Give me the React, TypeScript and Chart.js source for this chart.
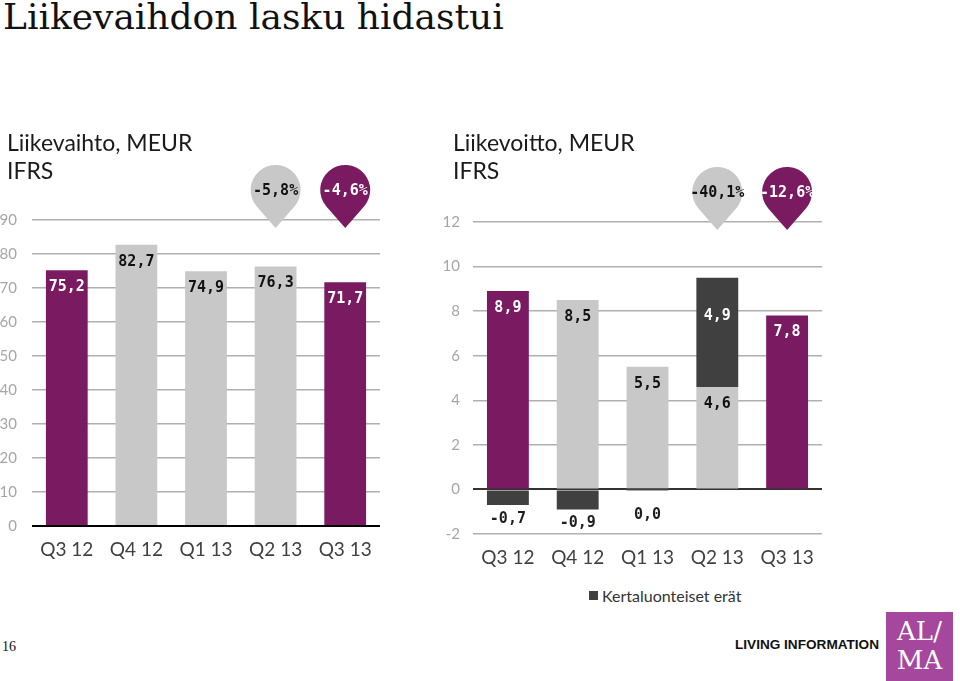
import React, { useEffect, useRef } from 'react';
import { Chart, registerables } from 'chart.js';

Chart.register(...registerables);

// ---- data ----
const quarters = ['Q3 12', 'Q4 12', 'Q1 13', 'Q2 13', 'Q3 13'];
const revenue = [75.2, 82.7, 74.9, 76.3, 71.7];
const operatingProfit = [8.9, 8.5, 5.5, 4.6, 7.8];
const oneOffItems: (number | null)[] = [-0.7, -0.9, 0.0, 4.9, null];
const highlightQuarters = ['Q3 12', 'Q3 13'];
const revenuePinQuarters = ['Q2 13', 'Q3 13'];
const revenuePinLabels = ['-5,8%', '-4,6%'];
const profitPinQuarters = ['Q2 13', 'Q3 13'];
const profitPinLabels = ['-40,1%', '-12,6%'];
const revenueAxis = [0, 90, 10];
const profitAxis = [-2, 12, 2];

const PURPLE = '#7a1b62';
const GRAY = '#c8c8c8';
const DARK = '#404040';
const GRID = '#b0b0b0';

const barColors = quarters.map((q) => (highlightQuarters.includes(q) ? PURPLE : GRAY));

const fmt = (v: number) => v.toFixed(1).replace('.', ',');

const valueLabels = {
  id: 'valueLabels',
  afterDatasetsDraw(chart: any) {
    const ctx = chart.ctx;
    const zeroPx = chart.scales.y.getPixelForValue(0);
    ctx.save();
    ctx.font = 'bold 15px "DejaVu Sans Mono", monospace';
    ctx.textAlign = 'center';
    ctx.textBaseline = 'middle';
    chart.data.datasets.forEach((ds: any, di: number) => {
      const meta = chart.getDatasetMeta(di);
      if (meta.hidden) return;
      meta.data.forEach((el: any, i: number) => {
        const v = ds.data[i];
        if (v == null) return;
        const bg = Array.isArray(ds.backgroundColor) ? ds.backgroundColor[i] : ds.backgroundColor;
        let y: number;
        let color: string;
        if (v > 0) {
          y = ds.isOneOff ? (el.y + el.base) / 2 - 16 : el.y + 17;
          color = bg === GRAY ? '#111' : '#fff';
        } else {
          const end = v === 0 ? zeroPx : el.y;
          y = Math.max(end + 14, zeroPx + 26);
          color = '#1e1e1e';
          if (v === 0) {
            // zero-sized one-off item: thin mark on the zero line
            ctx.fillStyle = bg;
            ctx.fillRect(el.x - el.width / 2, zeroPx - 1, el.width, 2);
          }
        }
        ctx.fillStyle = color;
        ctx.fillText(fmt(v), el.x, y);
      });
    });
    ctx.restore();
  },
};

const pins = {
  id: 'pins',
  afterDraw(chart: any, _args: any, opts: any) {
    const items = opts.items || [];
    const ctx = chart.ctx;
    const top = chart.chartArea.top;
    const xs = chart.scales.x;
    ctx.save();
    items.forEach((it: any) => {
      const idx = chart.data.labels.indexOf(it.quarter);
      if (idx < 0) return;
      const cx = xs.getPixelForValue(idx);
      const r = 25;
      const cy = top - 30;
      const tipY = top + 8;
      const d = tipY - cy;
      const a = Math.acos(r / d);
      ctx.beginPath();
      ctx.moveTo(cx, tipY);
      ctx.arc(cx, cy, r, Math.PI / 2 + a, Math.PI / 2 - a, false);
      ctx.closePath();
      ctx.fillStyle = it.color;
      ctx.fill();
      ctx.font = 'bold 15px "DejaVu Sans Mono", monospace';
      ctx.textAlign = 'center';
      ctx.textBaseline = 'middle';
      ctx.fillStyle = it.textColor;
      ctx.fillText(it.text, cx, cy + 1);
    });
    ctx.restore();
  },
};

const pinItems = (qs: string[], labels: string[]) =>
  qs.map((q, i) => {
    const hl = highlightQuarters.includes(q);
    return { quarter: q, text: labels[i], color: hl ? PURPLE : GRAY, textColor: hl ? '#fff' : '#111' };
  });

function axisOptions(range: number[], yWidth: number, yPad: number, xHeight: number, zeroColor: string) {
  return {
    x: {
      stacked: true,
      grid: { display: false, drawTicks: false },
      border: { display: false },
      ticks: { color: '#404040', padding: 12, font: { family: 'Lato', size: 19 } },
      afterFit: (s: any) => {
        s.height = xHeight;
      },
    },
    y: {
      stacked: true,
      min: range[0],
      max: range[1],
      ticks: {
        stepSize: range[2],
        color: '#a6a6a6',
        padding: yPad,
        font: { family: 'Lato', size: 15 },
      },
      grid: {
        drawTicks: false,
        color: (c: any) => (c.tick && c.tick.value === 0 ? zeroColor : GRID),
        lineWidth: (c: any) => (c.tick && c.tick.value === 0 ? 2 : 1.5),
      },
      border: { display: false },
      afterFit: (s: any) => {
        s.width = yWidth;
      },
    },
  };
}

export default function App() {
  const leftRef = useRef<HTMLCanvasElement>(null);
  const rightRef = useRef<HTMLCanvasElement>(null);

  useEffect(() => {
    const left = new Chart(leftRef.current as HTMLCanvasElement, {
      type: 'bar',
      data: {
        labels: quarters,
        datasets: [
          {
            label: 'Liikevaihto',
            data: revenue,
            backgroundColor: barColors,
            categoryPercentage: 1,
            barPercentage: 0.6,
          } as any,
        ],
      },
      options: {
        responsive: false,
        animation: false,
        layout: { padding: { top: 70, right: 40, left: 0, bottom: 0 } },
        plugins: {
          legend: { display: false },
          tooltip: { enabled: false },
          pins: { items: pinItems(revenuePinQuarters, revenuePinLabels) },
        } as any,
        scales: axisOptions(revenueAxis, 32, 15, 64, '#000') as any,
      },
      plugins: [valueLabels, pins],
    });

    const right = new Chart(rightRef.current as HTMLCanvasElement, {
      type: 'bar',
      data: {
        labels: quarters,
        datasets: [
          {
            label: 'Liikevoitto',
            data: operatingProfit,
            backgroundColor: barColors,
            categoryPercentage: 1,
            barPercentage: 0.6,
          } as any,
          {
            label: 'Kertaluonteiset erät',
            data: oneOffItems,
            backgroundColor: DARK,
            categoryPercentage: 1,
            barPercentage: 0.6,
            isOneOff: true,
          } as any,
        ],
      },
      options: {
        responsive: false,
        animation: false,
        layout: { padding: { top: 72, right: 8, left: 0, bottom: 0 } },
        plugins: {
          legend: { display: false },
          tooltip: { enabled: false },
          pins: { items: pinItems(profitPinQuarters, profitPinLabels) },
        } as any,
        scales: axisOptions(profitAxis, 43, 13, 46, '#333') as any,
      },
      plugins: [valueLabels, pins],
    });

    return () => {
      left.destroy();
      right.destroy();
    };
  }, []);

  const abs = (s: React.CSSProperties): React.CSSProperties => ({ position: 'absolute', ...s });

  return (
    <div style={abs({ left: 0, top: 0, width: 960, height: 681, background: '#fff', overflow: 'hidden' })}>
      <div
        style={abs({
          left: 3,
          top: -4,
          fontFamily: '"DejaVu Serif", serif',
          fontSize: 36,
          color: '#111',
          whiteSpace: 'nowrap',
        })}
      >
        Liikevaihdon lasku hidastui
      </div>

      <canvas ref={leftRef} width={420} height={440} style={abs({ left: 0, top: 150 })} />
      <canvas ref={rightRef} width={400} height={430} style={abs({ left: 430, top: 150 })} />

      <div
        style={abs({
          left: 7,
          top: 128,
          fontFamily: 'Lato, sans-serif',
          fontSize: 23,
          lineHeight: '28px',
          color: '#1a1a1a',
        })}
      >
        Liikevaihto, MEUR
        <br />
        IFRS
      </div>
      <div
        style={abs({
          left: 453,
          top: 128,
          fontFamily: 'Lato, sans-serif',
          fontSize: 23,
          lineHeight: '28px',
          color: '#1a1a1a',
        })}
      >
        Liikevoitto, MEUR
        <br />
        IFRS
      </div>

      <div style={abs({ left: 589, top: 586, display: 'flex', alignItems: 'center', whiteSpace: 'nowrap' })}>
        <span style={{ display: 'inline-block', width: 9, height: 9, background: DARK, marginRight: 4 }} />
        <span style={{ fontFamily: 'Lato, sans-serif', fontSize: 16, color: '#333' }}>Kertaluonteiset erät</span>
      </div>

      <div style={abs({ left: 2, top: 639, fontFamily: '"Liberation Serif", serif', fontSize: 14, color: '#111' })}>16</div>
      <div
        style={abs({
          left: 735,
          top: 637,
          fontFamily: '"Liberation Sans", Arial, sans-serif',
          fontWeight: 'bold',
          fontSize: 13.6,
          color: '#111',
          whiteSpace: 'nowrap',
        })}
      >
        LIVING INFORMATION
      </div>
      <div
        style={abs({
          left: 886,
          top: 612,
          width: 67,
          height: 69,
          background: '#a6479e',
          color: '#fff',
          fontFamily: '"DejaVu Serif", serif',
          fontSize: 26,
          lineHeight: '29px',
          textAlign: 'center',
          paddingTop: 5,
          boxSizing: 'border-box',
        })}
      >
        AL/
        <br />
        MA
      </div>
    </div>
  );
}
